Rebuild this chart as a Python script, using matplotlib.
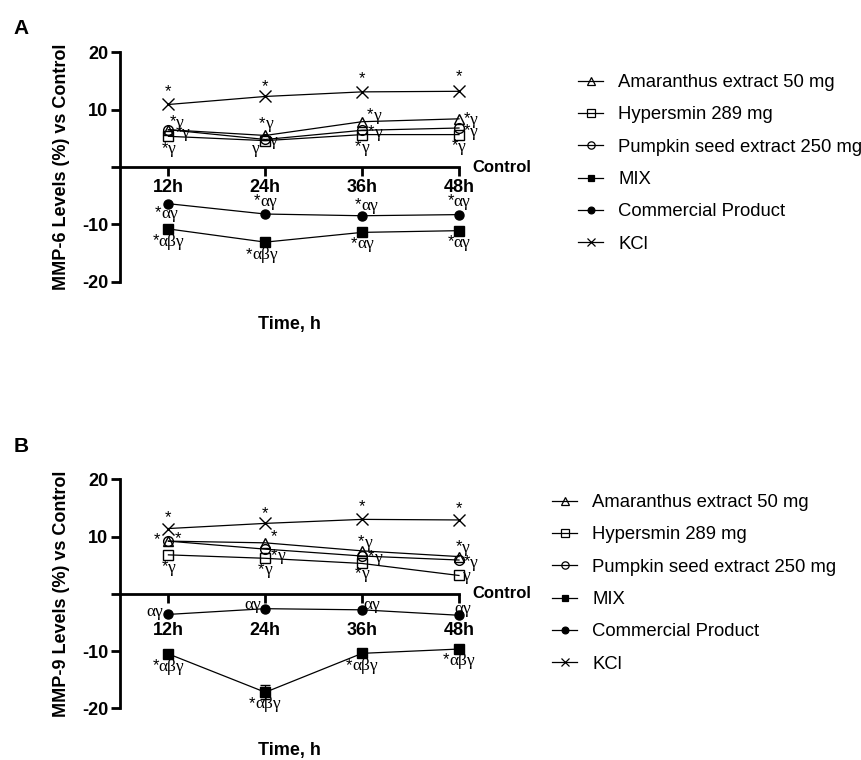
import matplotlib
matplotlib.use('Agg')
import matplotlib.pyplot as plt
from matplotlib.lines import Line2D

# ---------------- data ----------------
times = ['12h', '24h', '36h', '48h']
series_names = ['Amaranthus extract 50 mg', 'Hypersmin 289 mg',
                'Pumpkin seed extract 250 mg', 'MIX', 'Commercial Product', 'KCl']

mmp6_amaranthus = [6.5, 5.5, 7.9, 8.4]
mmp6_hypersmin = [5.35, 4.6, 5.65, 5.65]
mmp6_pumpkin = [6.5, 4.8, 6.4, 6.8]
mmp6_mix = [-10.8, -13.1, -11.4, -11.1]
mmp6_commercial = [-6.4, -8.2, -8.5, -8.3]
mmp6_kcl = [10.9, 12.3, 13.1, 13.2]

mmp9_amaranthus = [9.2, 8.9, 7.5, 6.5]
mmp9_hypersmin = [6.8, 6.2, 5.3, 3.2]
mmp9_pumpkin = [9.2, 7.8, 6.6, 5.9]
mmp9_mix = [-10.5, -17.2, -10.4, -9.65]
mmp9_mix_err = [0.3, 1.2, 0.3, 0.3]
mmp9_commercial = [-3.6, -2.6, -2.8, -3.75]
mmp9_kcl = [11.4, 12.3, 13.0, 12.9]

# significance labels: (series index, time index, text)
sig_a = [(5, 0, '*'), (5, 1, '*'), (5, 2, '*'), (5, 3, '*'),
         (0, 0, '*γ'), (0, 1, '*γ'), (0, 2, '*γ'), (0, 3, '*γ'),
         (2, 3, '*γ'),
         (1, 0, '*γ'), (1, 0, '*γ'), (1, 1, 'γ'), (1, 1, 'γ'),
         (1, 2, '*γ'), (1, 2, '*γ'), (1, 3, '*γ'),
         (4, 0, '*αγ'), (4, 1, '*αγ'), (4, 2, '*αγ'), (4, 3, '*αγ'),
         (3, 0, '*αβγ'), (3, 1, '*αβγ'), (3, 2, '*αγ'), (3, 3, '*αγ')]
sig_b = [(5, 0, '*'), (5, 1, '*'), (5, 2, '*'), (5, 3, '*'),
         (0, 0, '*'), (0, 0, '*'), (0, 1, '*'), (0, 2, '*γ'), (0, 3, '*γ'),
         (2, 2, '*γ'), (2, 3, '*γ'),
         (1, 0, '*γ'), (1, 1, '*γ'), (1, 1, '*γ'), (1, 2, '*γ'), (1, 3, 'γ'),
         (4, 0, 'αγ'), (4, 1, 'αγ'), (4, 2, 'αγ'), (4, 3, 'αγ'),
         (3, 0, '*αβγ'), (3, 1, '*αβγ'), (3, 2, '*αβγ'), (3, 3, '*αβγ')]

# label offsets in pixels (right, down) -- layout only
off_a = [(0, -12), (0, -9), (0, -12), (0, -14),
         (8, -7), (1, -11), (12, -6), (12, 1),
         (12, 4),
         (14, -3), (0, 13), (-9, 8), (9, 0),
         (13, -2), (0, 13), (0, 12),
         (-2, 10), (0, -12), (4, -10), (0, -13),
         (0, 13), (-3, 13), (0, 12), (0, 12)]
off_b = [(0, -10), (0, -9), (0, -12), (0, -10),
         (-11, -1), (10, -2), (9, -5), (3, -8), (4, -9),
         (13, 2), (12, 3),
         (0, 13), (13, -2), (0, 12), (0, 11), (8, 1),
         (-14, -2), (-13, -4), (10, -5), (4, -6),
         (0, 13), (0, 12), (0, 13), (0, 12)]

# ---------------- style ----------------
plt.rcParams['font.family'] = ['Liberation Sans', 'DejaVu Sans']
styles = [
    dict(marker='^', mfc='none', ms=7),
    dict(marker='s', mfc='none', ms=7),
    dict(marker='o', mfc='none', ms=7),
    dict(marker='s', mfc='black', ms=6.5),
    dict(marker='o', mfc='black', ms=6.5),
    dict(marker='x', mfc='none', ms=8),
]

W, H = 862, 760
fig = plt.figure(figsize=(W / 100, H / 100), dpi=100)
renderer = fig.canvas.get_renderer()


def px_axes(left, top, right, bottom):
    return fig.add_axes([left / W, 1 - bottom / H, (right - left) / W, (bottom - top) / H])


def sig_label(ax, x, y, txt, dx, dy):
    star = '*' if txt.startswith('*') else ''
    greek = txt.lstrip('*')
    parts = []
    if star:
        parts.append(ax.annotate(star, xy=(x, y), xytext=(0, 0), textcoords='offset pixels',
                                 ha='left', va='center', fontsize=12,
                                 family=['Liberation Sans', 'DejaVu Sans'],
                                 annotation_clip=False, zorder=4))
    if greek:
        parts.append(ax.annotate(greek, xy=(x, y), xytext=(0, 0), textcoords='offset pixels',
                                 ha='left', va='center', fontsize=12.5,
                                 family=['Liberation Serif', 'DejaVu Serif'],
                                 annotation_clip=False, zorder=4))
    widths = [p.get_window_extent(renderer).width for p in parts]
    start = dx - sum(widths) / 2
    for p, w in zip(parts, widths):
        p.xyann = (start, -dy + (1 if p.get_text() == '*' else 0))
        start += w


def panel(ax, data, errs, sigs, offs, ylabel, label_pad, letter, legend_anchor, legend_text_pad):
    xs = list(range(len(times)))
    for k, vals in enumerate(data):
        st = styles[k]
        if errs[k] is not None:
            ax.errorbar(xs, vals, yerr=errs[k], color='black', lw=0.9,
                        marker=st['marker'], ms=st['ms'], mfc=st['mfc'], mec='black',
                        mew=1.0, capsize=3.5, elinewidth=0.9, capthick=0.9, clip_on=False, zorder=3)
        else:
            ax.plot(xs, vals, color='black', lw=0.9, marker=st['marker'], ms=st['ms'],
                    mfc=st['mfc'], mec='black', mew=1.0, clip_on=False, zorder=3)
    ax.set_xlim(-0.5, 3)
    ax.set_ylim(-20, 20)
    for (s, i, txt), (dx, dy) in zip(sigs, offs):
        sig_label(ax, i, data[s][i], txt, dx, dy)
    for sp in ['top', 'right']:
        ax.spines[sp].set_visible(False)
    ax.spines['bottom'].set_position(('data', 0))
    ax.spines['left'].set_linewidth(2)
    ax.spines['bottom'].set_linewidth(2)
    ax.spines['left'].set_bounds(-20, 20)
    ax.set_yticks([-20, -10, 0, 10, 20])
    ax.set_yticklabels(['-20', '-10', '', '10', '20'])
    ax.set_xticks(xs)
    ax.set_xticklabels(times)
    ax.tick_params(axis='y', length=6.5, width=2, pad=2, labelsize=13)
    ax.tick_params(axis='x', length=6.5, width=2, pad=label_pad, labelsize=13)
    for t in ax.get_xticklabels() + ax.get_yticklabels():
        t.set_fontweight('bold')
    ax.patch.set_visible(False)
    ax.annotate('Control', xy=(3, 0), xytext=(13, 0), textcoords='offset pixels',
                ha='left', va='center', fontsize=12, fontweight='bold', annotation_clip=False)
    ax.text(0.5, -0.185, 'Time, h', transform=ax.transAxes, ha='center', va='center',
            fontsize=13, fontweight='bold')
    ax.text(-0.172, 0.5, ylabel, transform=ax.transAxes, ha='center', va='center',
            rotation=90, fontsize=13, fontweight='bold')
    handles = [Line2D([0], [0], color='black', lw=0.9, marker=st['marker'],
                      ms=st['ms'] * 0.75, mfc=st['mfc'], mec='black', mew=0.9) for st in styles]
    ax.legend(handles, series_names, loc='upper left',
              bbox_to_anchor=(legend_anchor[0] / W, 1 - legend_anchor[1] / H),
              bbox_transform=fig.transFigure, frameon=False, fontsize=13.3,
              borderpad=0, borderaxespad=0, handlelength=1.38, handletextpad=legend_text_pad,
              labelspacing=0.83)
    fig.text(20.7 / W, 1 - letter[1] / H, letter[0], ha='center', va='center',
             fontsize=15, fontweight='bold')


axA = px_axes(120, 52.3, 459, 281.7)
panel(axA,
      [mmp6_amaranthus, mmp6_hypersmin, mmp6_pumpkin, mmp6_mix, mmp6_commercial, mmp6_kcl],
      [None] * 6, sig_a, off_a, 'MMP-6 Levels (%) vs Control', 2, ('A', 28.3),
      (578, 74), 0.81)

axB = px_axes(120, 479.3, 459, 708.3)
panel(axB,
      [mmp9_amaranthus, mmp9_hypersmin, mmp9_pumpkin, mmp9_mix, mmp9_commercial, mmp9_kcl],
      [None, None, None, mmp9_mix_err, None, None], sig_b, off_b,
      'MMP-9 Levels (%) vs Control', 14, ('B', 446.7),
      (552, 494), 0.79)

fig.savefig('out.png', dpi=100)
